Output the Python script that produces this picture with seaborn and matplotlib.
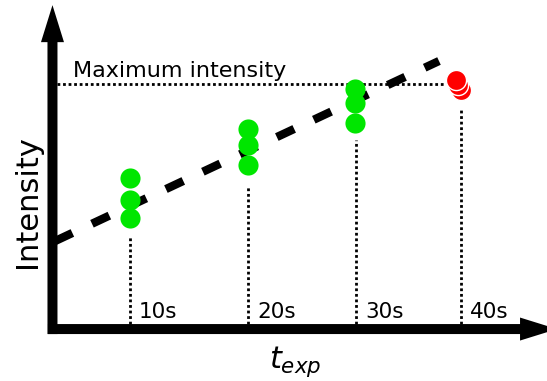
"""
Schematic: intensity vs exposure time, with saturation at max intensity
"""
import matplotlib
matplotlib.use("Agg")
import matplotlib.pyplot as plt
import seaborn as sns
import pandas as pd

# exposure times (s) and their labels
tick_t = [10, 20.7, 30.5, 40]
tick_labels = ['10s', '20s', '30s', '40s']
drop_top = [38, 58, 77, 89.4]

# measured intensities (green: fine, red: saturated)
green_t = [10, 10, 10, 20.7, 20.7, 20.7, 30.4, 30.4, 30.4]
green_I = [61.6, 52.7, 45.3, 81.6, 75.3, 66.9, 98.0, 92.2, 84.1]
red_t = [40.0, 39.7, 39.5]
red_I = [97.7, 99.6, 101.6]

# linear trend and the maximum intensity level
fit_t = [3.2, 38.0]
fit_I = [35.9, 109.4]
max_I = 100

sns.set_style("white")
plt.rcParams['font.family'] = ['DejaVu Sans']
plt.rcParams['text.color'] = 'black'

fig = plt.figure(figsize=(5.47, 3.81), dpi=100)
ax = fig.add_axes([0, 0, 1, 1])
ax.set_xlim(-1.786, 47.79)
ax.set_ylim(-21.2, 134.3)
ax.axis('off')

# axes drawn as arrows
arrow = dict(arrowstyle='simple,head_length=3.7,head_width=2.3,tail_width=1.0',
             mutation_scale=7.2, color='black', lw=0, shrinkA=0, shrinkB=0)
ax.annotate('', xy=(2.97, 132.2), xytext=(2.97, -2.04), arrowprops=arrow,
            annotation_clip=False)
ax.annotate('', xy=(48.7, 0), xytext=(2.56, 0), arrowprops=arrow,
            annotation_clip=False)

# dotted guide lines
dots = (0, (1, 1))
ax.plot([3.4, 38.5], [max_I, max_I], color='black', lw=2, linestyle=dots)
for t, top, lab in zip(tick_t, drop_top, tick_labels):
    ax.plot([t, t], [2, top], color='black', lw=2, linestyle=dots)
    ax.text(t + 0.8, 4.5, lab, fontsize=15.5, ha='left', va='baseline')

ax.text(4.8, 103, 'Maximum intensity', fontsize=16, ha='left', va='baseline')

# trend line
ax.plot(fit_t, fit_I, color='black', lw=6, linestyle=(0, (2.3, 2.6)),
        dash_capstyle='butt', zorder=2)

# measurements
green = pd.DataFrame({'t': green_t, 'I': green_I})
red = pd.DataFrame({'t': red_t, 'I': red_I})
sns.scatterplot(data=green, x='t', y='I', color='#00e600', s=210,
                linewidth=0, ax=ax, zorder=3)
sns.scatterplot(data=red, x='t', y='I', color='#ff0000', s=210,
                edgecolor='white', linewidth=1, ax=ax, zorder=3)

ax.text(0.75, 52, 'Intensity', fontsize=22, rotation=90, ha='center', va='center')
ax.text(25.0, -15.9, r'$t_{exp}$', fontsize=22, ha='center', va='baseline')

plt.savefig('out.png', dpi=100)
